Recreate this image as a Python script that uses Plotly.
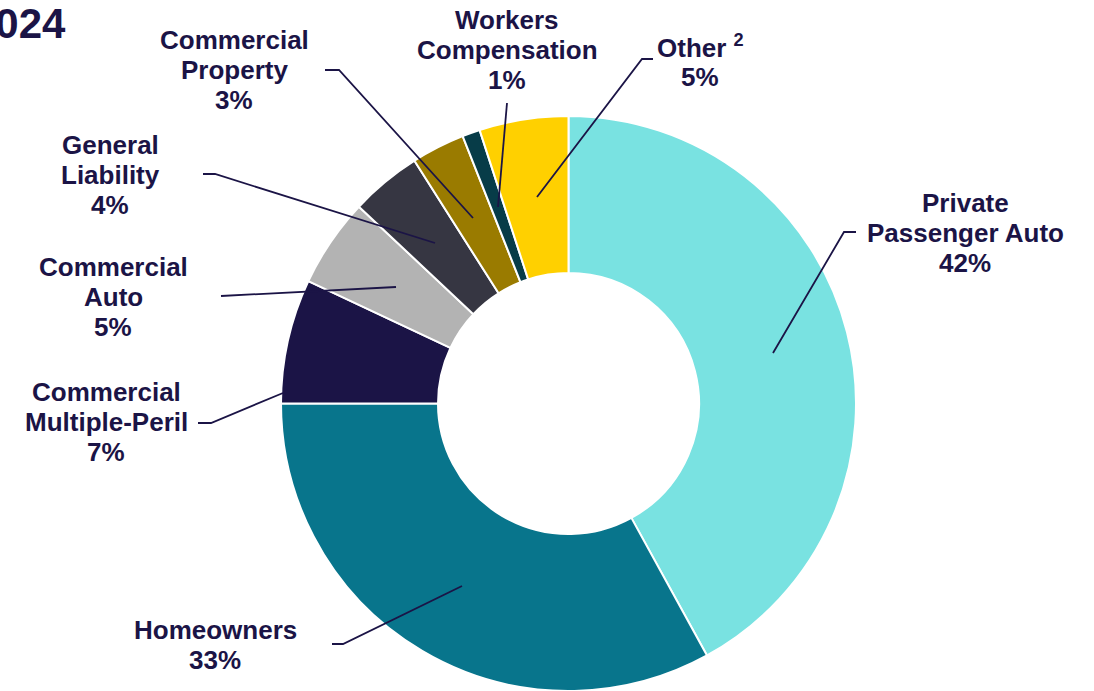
import plotly.graph_objects as go

# ---- data ----
categories = ["Private Passenger Auto", "Homeowners", "Commercial Multiple-Peril",
              "Commercial Auto", "General Liability", "Commercial Property",
              "Workers Compensation", "Other"]
shares = [42, 33, 7, 5, 4, 3, 1, 5]
label_lines = [["Private", "Passenger Auto"], ["Homeowners"], ["Commercial", "Multiple-Peril"],
               ["Commercial", "Auto"], ["General", "Liability"], ["Commercial", "Property"],
               ["Workers", "Compensation"], ["Other <sup>2</sup>"]]
title_text = "2024"

# ---- styles / layout ----
W, H = 1094, 691
colors = ["#79E2E1", "#08758C", "#1B1446", "#B3B3B3", "#363642", "#9A7B00", "#073C48", "#FFD000"]
ink = "#1B1446"
FONT = "Liberation Sans, Arial, sans-serif"

cx, cy, R = 568.5, 403.5, 287.5
hole = 130.5 / R

def px(x):
    return x / W

def py(y):
    return 1 - y / H

# label block centres (pixels) and leader polylines (pixels)
label_pos = [(965, 233), (215, 645), (106, 422), (113, 297), (110, 175), (234, 70), (507, 50), (700, 62)]
leaders = [
    [(856, 232), (844, 232), (773, 353)],
    [(332, 644), (343, 644), (462, 586)],
    [(198, 423), (211, 423), (283, 393)],
    [(221, 296), (396, 287)],
    [(203, 174), (215, 174), (435, 243)],
    [(325, 70), (339, 70), (473, 218)],
    [(507, 103), (498, 207)],
    [(653, 59), (642, 59), (537, 197)],
]
LINE_GAP = 30
FS = 26

fig = go.Figure(go.Pie(
    labels=categories, values=shares, sort=False, direction="clockwise", rotation=0,
    hole=hole, textinfo="none", hoverinfo="label+percent",
    marker=dict(colors=colors, line=dict(color="white", width=2)),
    domain=dict(x=[px(cx - R), px(cx + R)], y=[py(cy + R), py(cy - R)]),
    showlegend=False,
))

annotations = []
for lines, v, (lx, ly) in zip(label_lines, shares, label_pos):
    all_lines = lines + [f"{v}%"]
    n = len(all_lines)
    for i, t in enumerate(all_lines):
        yy = ly + (i - (n - 1) / 2) * LINE_GAP
        annotations.append(dict(
            x=px(lx), y=py(yy), xref="paper", yref="paper", text=f"<b>{t}</b>",
            showarrow=False, xanchor="center", yanchor="middle",
            font=dict(family=FONT, size=FS, color=ink),
        ))

annotations.append(dict(
    x=px(68), y=py(24), xref="paper", yref="paper", text=f"<b>{title_text}</b>",
    showarrow=False, xanchor="right", yanchor="middle",
    font=dict(family=FONT, size=42, color=ink),
))

shapes = []
for pts in leaders:
    path = "M " + " L ".join(f"{px(x)},{py(y)}" for x, y in pts)
    shapes.append(dict(type="path", path=path, xref="paper", yref="paper",
                       line=dict(color=ink, width=1.8), layer="above"))

fig.update_layout(
    width=W, height=H, margin=dict(l=0, r=0, t=0, b=0),
    paper_bgcolor="white", plot_bgcolor="white",
    annotations=annotations, shapes=shapes,
)

fig.write_html("out.html", config={"displayModeBar": False},
               post_script="document.body.style.margin='0';document.body.style.overflow='hidden';")
